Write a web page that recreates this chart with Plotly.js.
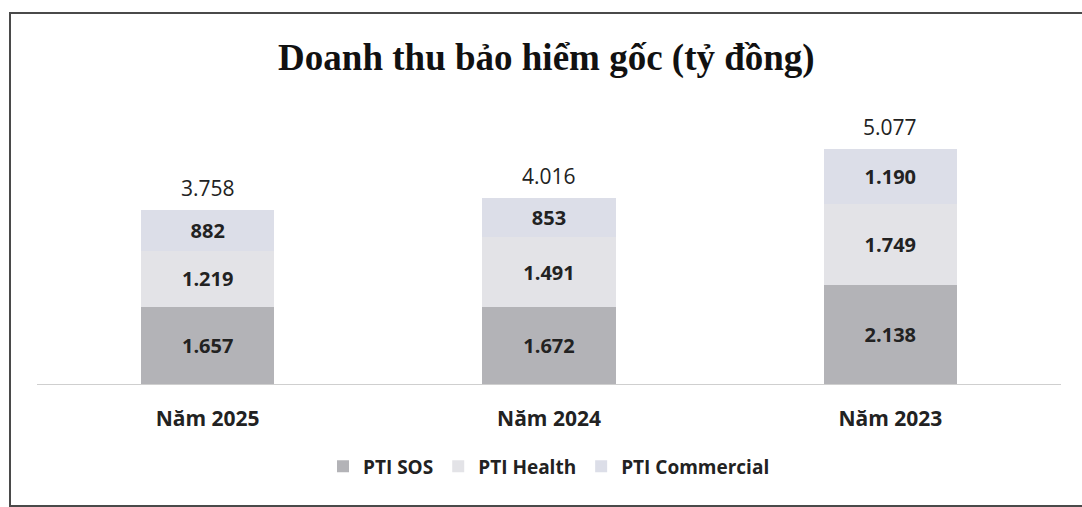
<!DOCTYPE html>
<html>
<head>
<meta charset="utf-8">
<script src="https://cdn.plot.ly/plotly-3.0.1.min.js"></script>
<style>
  html, body { margin: 0; padding: 0; background: #ffffff; }
  #wrap { position: relative; width: 1082px; height: 507px; overflow: hidden; }
  #chart { width: 1082px; height: 507px; }
  #frame { position: absolute; left: 9px; top: 12px; width: 1090px; height: 491px;
           border: 2px solid #4a4a4a; border-right: none; pointer-events: none; }
</style>
</head>
<body>
<div id="wrap">
  <div id="chart"></div>
  <div id="frame"></div>
</div>
<script>
const categories = ["Năm 2025", "Năm 2024", "Năm 2023"];
const ptiSOS = [1657, 1672, 2138];
const ptiHealth = [1219, 1491, 1749];
const ptiCommercial = [882, 853, 1190];
const totals = [3758, 4016, 5077];

const sans = "'Open Sans', Lato, sans-serif";
const labelFont = { family: sans, size: 20, color: "#222222", weight: 700 };

function barTrace(name, values, color) {
  return {
    type: "bar",
    name: name,
    x: categories,
    y: values,
    marker: { color: color, line: { width: 0 } },
    texttemplate: "%{y:,}",
    textposition: "inside",
    insidetextanchor: "middle",
    textfont: labelFont,
    hoverinfo: "skip"
  };
}

const data = [
  barTrace("PTI SOS", ptiSOS, "#b3b3b7"),
  barTrace("PTI Health", ptiHealth, "#e3e3e7"),
  barTrace("PTI Commercial", ptiCommercial, "#dcdee8")
];

const annotations = categories.map((c, i) => ({
  x: c, y: totals[i], xref: "x", yref: "y",
  text: totals[i].toLocaleString("de-DE"),
  showarrow: false, yanchor: "bottom", yshift: 6,
  font: { family: sans, size: 21, color: "#222222" }
}));

const layout = {
  width: 1082, height: 507,
  margin: { l: 37, r: 21, t: 100, b: 123 },
  paper_bgcolor: "#ffffff",
  plot_bgcolor: "#ffffff",
  separators: ",.",
  barmode: "stack",
  bargap: 0.61,
  title: {
    text: "<b>Doanh thu bảo hiểm gốc (tỷ đồng)</b>",
    font: { family: "'Liberation Serif', 'Times New Roman', serif", size: 37, color: "#111111" },
    x: 0.505, xanchor: "center",
    y: 1 - 57 / 507, yanchor: "middle", yref: "container"
  },
  xaxis: {
    showline: true, linecolor: "#cfcfcf", linewidth: 1,
    ticks: "", showgrid: false, zeroline: false,
    ticklabelstandoff: 16,
    tickfont: { family: sans, size: 21, color: "#222222", weight: 700 }
  },
  yaxis: {
    range: [0, 6130], visible: false, showgrid: false, zeroline: false
  },
  showlegend: true,
  legend: {
    orientation: "h", x: 0.5, xanchor: "center", y: -0.29, yanchor: "middle",
    traceorder: "normal",
    font: { family: sans, size: 19, color: "#222222", weight: 700 },
    itemwidth: 30
  },
  annotations: annotations
};

Plotly.newPlot("chart", data, layout, { displayModeBar: false, staticPlot: true });
</script>
</body>
</html>
